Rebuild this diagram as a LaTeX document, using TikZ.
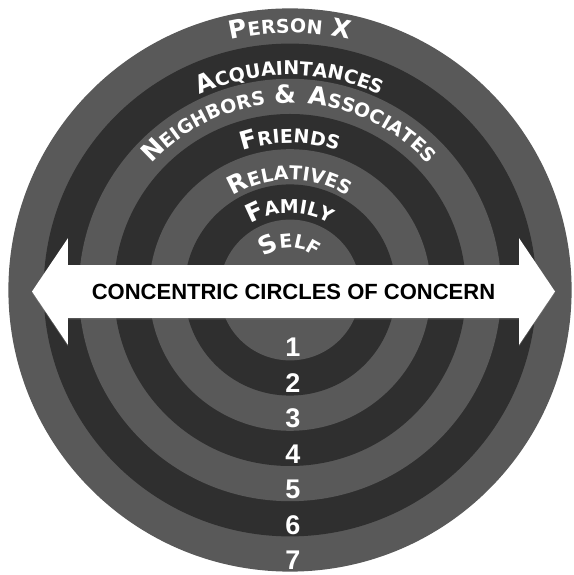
\documentclass[tikz,border=0pt]{standalone}
\usepackage{fontspec}
\setmainfont{DejaVu Sans}[LetterSpace=10]
\newfontfamily\bandfont{Liberation Sans}
\usetikzlibrary{shapes.arrows,decorations.text,shadows}
\definecolor{ringlight}{RGB}{89,89,89}
\definecolor{ringdark}{RGB}{47,47,47}
\newcommand{\capbig}{\bfseries\fontsize{25}{25}\selectfont}
\newcommand{\capsmall}{\bfseries\fontsize{19}{19}\selectfont}

\begin{document}
\begin{tikzpicture}[x=1pt,y=1pt,
  ringlabel/.style={decoration={text along path,text align=center,text color=white,text={#1}},decorate},
  ringnum/.style={text=white,inner sep=0pt,font=\bandfont\bfseries\fontsize{27}{27}\selectfont}]
\useasboundingbox (0,0) rectangle (573,575);
\coordinate (c) at (290,285);
% rings, outside in
\foreach \k in {7,...,1}{
  \pgfmathsetmacro{\r}{35.2*(\k+1)}
  \ifodd\k \def\ringcol{ringlight}\else \def\ringcol{ringdark}\fi
  \fill[\ringcol] (c) circle (\r);
}
% curved names
\path[ringlabel={|\capbig|S|\capsmall|ELF}] ([shift={(175:42)}]c) arc[start angle=175,end angle=5,radius=42];
\path[ringlabel={|\capbig|F|\capsmall|AMILY}] ([shift={(175:77)}]c) arc[start angle=175,end angle=5,radius=77];
\path[ringlabel={|\capbig|R|\capsmall|ELATIVES}] ([shift={(175:110)}]c) arc[start angle=175,end angle=5,radius=110];
\path[ringlabel={|\capbig|F|\capsmall|RIENDS}] ([shift={(175:147)}]c) arc[start angle=175,end angle=5,radius=147];
\path[ringlabel={|\capbig|N|\capsmall|EIGHBORS |\capbig|{\&} A|\capsmall|SSOCIATES}] ([shift={(175:187)}]c) arc[start angle=175,end angle=5,radius=187];
\path[ringlabel={|\capbig|A|\capsmall|CQUAINTANCES}] ([shift={(175:215)}]c) arc[start angle=175,end angle=5,radius=215];
\path[ringlabel={|\capbig|P|\capsmall|ERSON |\capbig|X}] ([shift={(175:257)}]c) arc[start angle=175,end angle=5,radius=257];
% the band across
\node[double arrow,fill=white,minimum height=523pt,double arrow head extend=27pt,
  double arrow tip angle=112,inner xsep=0pt,inner ysep=18.3pt,
  drop shadow={shadow xshift=0pt,shadow yshift=-1.5pt,opacity=0.45},
  font=\bandfont\bfseries\fontsize{22}{22}\selectfont] (band) at (293.5,283.5)
  {CONCENTRIC CIRCLES OF CONCERN};
% ring numbers
\foreach \n in {1,...,7}
  \node[ringnum] (num\n) at (293,{227.5-35.5*(\n-1)}) {\n};
\end{tikzpicture}
\end{document}
